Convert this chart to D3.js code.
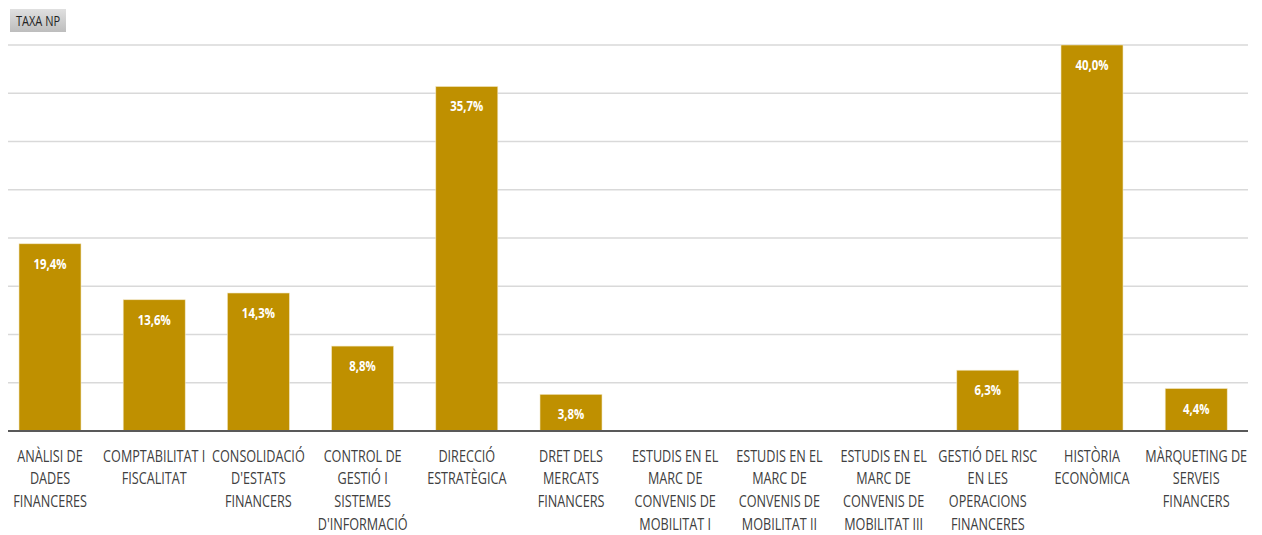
<!DOCTYPE html>
<html><head><meta charset="utf-8">
<script src="https://cdn.jsdelivr.net/npm/d3@7"></script>
<style>
body{margin:0;background:#fff;}
text{font-family:"Open Sans","Liberation Sans",sans-serif;}
</style></head>
<body><svg id="c" width="1262" height="535"></svg>
<script>
const categories = [
  ["ANÀLISI DE","DADES","FINANCERES"],
  ["COMPTABILITAT I","FISCALITAT"],
  ["CONSOLIDACIÓ","D'ESTATS","FINANCERS"],
  ["CONTROL DE","GESTIÓ I","SISTEMES","D'INFORMACIÓ"],
  ["DIRECCIÓ","ESTRATÈGICA"],
  ["DRET DELS","MERCATS","FINANCERS"],
  ["ESTUDIS EN EL","MARC DE","CONVENIS DE","MOBILITAT I"],
  ["ESTUDIS EN EL","MARC DE","CONVENIS DE","MOBILITAT II"],
  ["ESTUDIS EN EL","MARC DE","CONVENIS DE","MOBILITAT III"],
  ["GESTIÓ DEL RISC","EN LES","OPERACIONS","FINANCERES"],
  ["HISTÒRIA","ECONÒMICA"],
  ["MÀRQUETING DE","SERVEIS","FINANCERS"]
];
const values = [19.4, 13.6, 14.3, 8.8, 35.7, 3.8, null, null, null, 6.3, 40.0, 4.4];
const gridTicks = [0,5,10,15,20,25,30,35,40];
const title = "TAXA NP";

const svg = d3.select("#c");
const ids = d3.range(categories.length);
const x = d3.scaleBand().domain(ids).range([-2.1, 1248.3]).paddingInner(0.405).paddingOuter(0.2025);
const y = d3.scaleLinear().domain([0,40]).range([431,45]);

// gridlines
svg.append("g").selectAll("line").data(gridTicks.filter(d=>d>0)).join("line")
  .attr("x1",8).attr("x2",1248).attr("y1",d=>y(d)).attr("y2",d=>y(d))
  .attr("stroke","#d9d9d9").attr("stroke-width",1.5);

// bars
svg.append("g").selectAll("rect").data(ids.filter(i=>values[i]!=null)).join("rect")
  .attr("x",i=>x(i)).attr("width",x.bandwidth())
  .attr("y",i=>y(values[i])).attr("height",i=>y(0)-y(values[i]))
  .attr("fill","#bf9000").attr("stroke","#f2e6c2").attr("stroke-width",0.6);

// value labels
const fmt = v => v.toFixed(1).replace(".",",")+"%";
svg.append("g").selectAll("text").data(ids.filter(i=>values[i]!=null)).join("text")
  .attr("transform",i=>`translate(${x(i)+x.bandwidth()/2},${y(values[i])+25}) scale(0.76,1)`)
  .attr("text-anchor","middle").attr("fill","#fff").attr("font-weight","bold")
  .attr("font-size",15).text(i=>fmt(values[i]));

// baseline
svg.append("line").attr("x1",8).attr("x2",1248).attr("y1",431).attr("y2",431)
  .attr("stroke","#595959").attr("stroke-width",2.2);

// category labels
const lab = svg.append("g").selectAll("text").data(ids).join("text")
  .attr("text-anchor","middle").attr("fill","#404040").attr("font-size",16)
  .attr("transform",i=>`translate(${x(i)+x.bandwidth()/2},461.5) scale(0.79,1)`);
lab.selectAll("tspan").data(i=>categories[i]).join("tspan")
  .attr("x",0).attr("dy",(d,j)=>j===0?0:22.8).text(d=>d);

// title box
const defs = svg.append("defs");
const gr = defs.append("linearGradient").attr("id","tg").attr("x1",0).attr("y1",0).attr("x2",0).attr("y2",1);
gr.append("stop").attr("offset","0%").attr("stop-color","#e0e0e0");
gr.append("stop").attr("offset","100%").attr("stop-color","#bdbdbd");
svg.append("rect").attr("x",10).attr("y",9).attr("width",56).attr("height",23).attr("fill","url(#tg)");
svg.append("text").attr("transform","translate(38,25.5) scale(0.76,1)").attr("text-anchor","middle")
  .attr("font-size",14.5).attr("fill","#222").text(title);
</script></body></html>
